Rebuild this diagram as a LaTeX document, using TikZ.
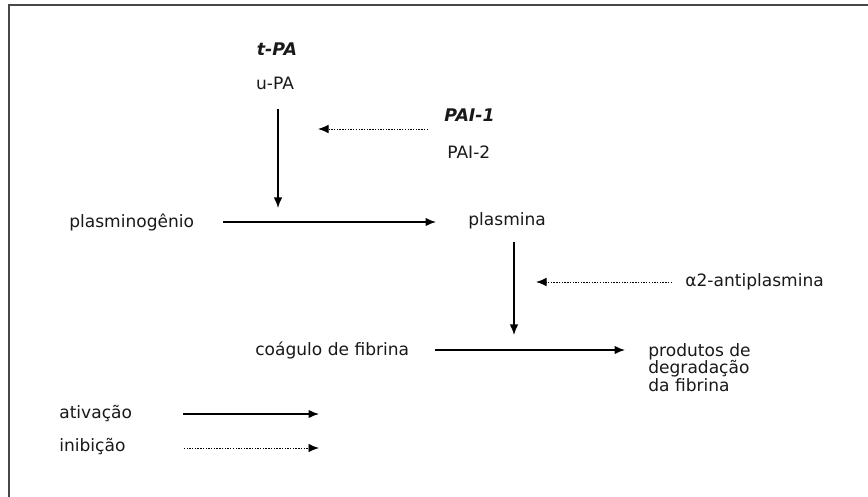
\documentclass[tikz,border=0pt]{standalone}
\usepackage{fontspec}
\setmainfont{DejaVu Sans}
\usepackage{xcolor}
\usepackage{tikz}
\usetikzlibrary{arrows.meta,positioning,calc}

\begin{document}
\begin{tikzpicture}[
    font=\fontsize{9.7}{10}\selectfont,
    txt/.style={
        inner sep=0pt, text=black!90
    },
    txtLeft/.style={
        txt, anchor=west, align=left
    },
    keyName/.style={
        txt, font=\fontsize{9.9}{10}\selectfont\bfseries\itshape
    },
    actEdge/.style={
        -{Latex[length=2.1mm, width=1.7mm]}, line width=0.8pt, draw=black
    },
    inhEdge/.style={
        -{Latex[length=2.1mm, width=1.7mm]}, line width=0.55pt, draw=black,
        dash pattern=on 0.8pt off 0.75pt
    },
    frameLine/.style={
        line width=1.1pt, draw=black!72
    }
]

\useasboundingbox (0,0) rectangle (17.36,-9.94);

% Frame (top and left edges only)
\draw[frameLine] (0.18,-9.94) -- (0.18,-0.10) -- (17.36,-0.10);

% Activators
\node[keyName] (tpa) at (5.54, -0.98) {t-PA};
\node[txt] (upa) at (5.50, -1.66) {u-PA};

% Inhibitors of the activators
\node[keyName, anchor=west] (pai1) at (8.88, -2.30) {PAI-1};
\node[txtLeft] (pai2) at (8.94, -3.04) {PAI-2};

% Main chain
\node[txtLeft] (plg) at (1.38, -4.44) {plasminogênio};
\node[txtLeft] (pla) at (9.36, -4.42) {plasmina};
\node[txtLeft] (a2ap) at (13.70, -5.64) {α2-antiplasmina};
\node[txtLeft] (clot) at (5.10, -7.00) {coágulo de fibrina};
\node[txtLeft] (pdf) at (12.96, -7.35) {produtos de\\degradação\\da fibrina};

% Legend
\node[txtLeft] (legAct) at (1.18, -8.28) {ativação};
\node[txtLeft] (legInh) at (1.18, -8.94) {inibição};

% Arrow tips that land on other arrows
\coordinate (upaTip) at (5.56, -4.16);
\coordinate (paiTip) at (6.36, -2.58);
\coordinate (plaTip) at (10.28, -6.70);
\coordinate (a2Tip) at (10.72, -5.64);
\coordinate (legActEnd) at (6.38, -8.28);
\coordinate (legInhEnd) at (6.38, -8.96);

% Activation
\draw[actEdge, shorten <=0.38cm] (upa.south -| upaTip) -- (upaTip);
\draw[actEdge, shorten <=0.58cm, shorten >=0.64cm] (plg.east) -- (plg.east -| pla.west);
\draw[actEdge, shorten <=0.25cm] (pla.south -| plaTip) -- (plaTip);
\draw[actEdge, shorten <=0.52cm, shorten >=0.46cm] (clot.east) -- (clot.east -| pdf.west);

% Inhibition
\draw[inhEdge, shorten <=0.32cm] (pai1.west |- paiTip) -- (paiTip);
\draw[inhEdge, shorten <=0.26cm] (a2ap.west) -- (a2Tip);

% Legend arrows
\draw[actEdge, shorten <=1.02cm] (legAct.east) -- (legActEnd);
\draw[inhEdge, shorten <=1.16cm] (legInh.east |- legInhEnd) -- (legInhEnd);

\end{tikzpicture}
\end{document}
